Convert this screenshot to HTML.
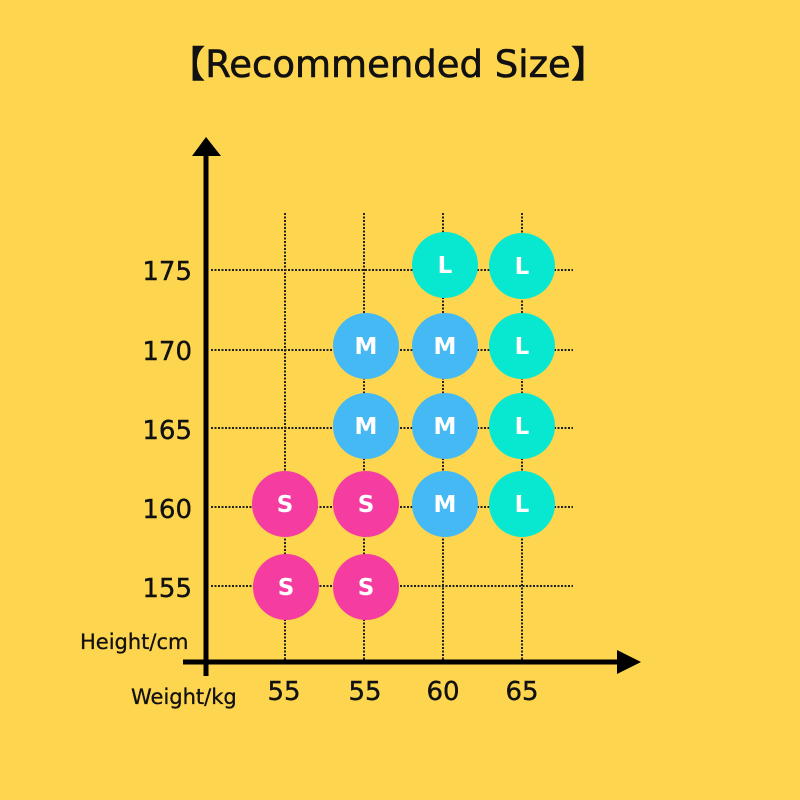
<!DOCTYPE html>
<html><head><meta charset="utf-8"><style>
html,body{margin:0;padding:0;background:#FED54F;}
svg{display:block}
text{font-family:"DejaVu Sans","Liberation Sans",sans-serif;}
</style></head><body>
<svg width="800" height="800" viewBox="0 0 800 800">
<rect width="800" height="800" fill="#FED54F"/>
<text x="388" y="77" font-size="37" text-anchor="middle" fill="#111" stroke="#111" stroke-width="0.6">【Recommended Size】</text>
<g stroke="#222" stroke-width="2" stroke-dasharray="2,1.5" fill="none">
<line x1="285" y1="213" x2="285" y2="662"/>
<line x1="364" y1="213" x2="364" y2="662"/>
<line x1="443" y1="213" x2="443" y2="662"/>
<line x1="522" y1="213" x2="522" y2="662"/>
<line x1="211" y1="270" x2="573" y2="270"/>
<line x1="211" y1="350" x2="573" y2="350"/>
<line x1="211" y1="428" x2="573" y2="428"/>
<line x1="211" y1="507" x2="573" y2="507"/>
<line x1="211" y1="586" x2="573" y2="586"/>
</g>
<line x1="206" y1="150" x2="206" y2="676" stroke="#000" stroke-width="5"/>
<polygon points="206,137 192,156 221,156" fill="#000"/>
<line x1="183" y1="662" x2="620" y2="662" stroke="#000" stroke-width="5"/>
<polygon points="641,662 617,650 617,674" fill="#000"/>
<g font-size="23" font-weight="bold" fill="#fff" text-anchor="middle">
<circle cx="445" cy="265" r="33" fill="#08E8D0"/><text x="445" y="273">L</text>
<circle cx="522" cy="266" r="33" fill="#08E8D0"/><text x="522" y="274">L</text>
<circle cx="366" cy="346" r="33" fill="#45B9F3"/><text x="366" y="354">M</text>
<circle cx="445" cy="346" r="33" fill="#45B9F3"/><text x="445" y="354">M</text>
<circle cx="522" cy="346" r="33" fill="#08E8D0"/><text x="522" y="354">L</text>
<circle cx="366" cy="426" r="33" fill="#45B9F3"/><text x="366" y="434">M</text>
<circle cx="445" cy="426" r="33" fill="#45B9F3"/><text x="445" y="434">M</text>
<circle cx="522" cy="426" r="33" fill="#08E8D0"/><text x="522" y="434">L</text>
<circle cx="285" cy="504" r="33" fill="#F53DA1"/><text x="285" y="512">S</text>
<circle cx="366" cy="504" r="33" fill="#F53DA1"/><text x="366" y="512">S</text>
<circle cx="445" cy="504" r="33" fill="#45B9F3"/><text x="445" y="512">M</text>
<circle cx="522" cy="504" r="33" fill="#08E8D0"/><text x="522" y="512">L</text>
<circle cx="286" cy="587" r="33" fill="#F53DA1"/><text x="286" y="595">S</text>
<circle cx="366" cy="587" r="33" fill="#F53DA1"/><text x="366" y="595">S</text>
</g>
<g font-size="26" fill="#111" text-anchor="end" stroke="#111" stroke-width="0.4">
<text x="192" y="280">175</text>
<text x="192" y="360">170</text>
<text x="192" y="439">165</text>
<text x="192" y="518">160</text>
<text x="192" y="597">155</text>
</g>
<text x="80" y="649" font-size="21" fill="#111" stroke="#111" stroke-width="0.3">Height/cm</text>
<text x="131" y="704" font-size="21" fill="#111" stroke="#111" stroke-width="0.3">Weight/kg</text>
<g font-size="26" fill="#111" text-anchor="middle" stroke="#111" stroke-width="0.4">
<text x="284" y="700">55</text>
<text x="365" y="700">55</text>
<text x="443" y="700">60</text>
<text x="522" y="700">65</text>
</g>
</svg>
</body></html>
